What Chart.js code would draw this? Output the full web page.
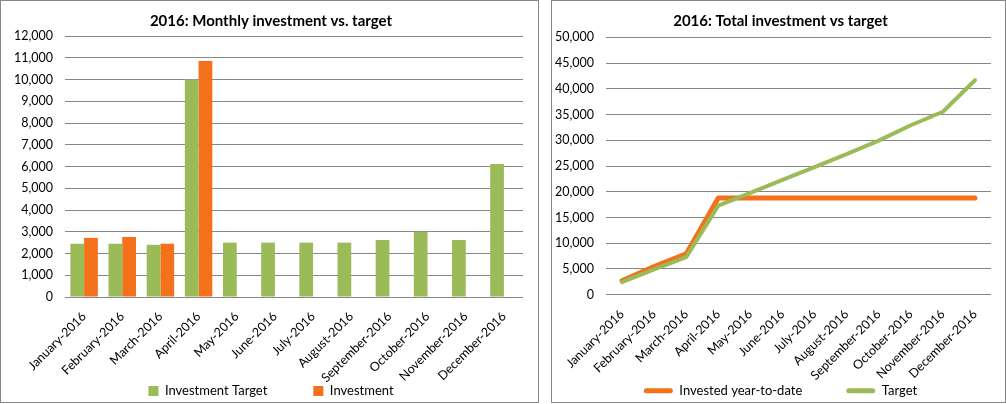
<!DOCTYPE html>
<html>
<head>
<meta charset="utf-8">
<script src="https://cdn.jsdelivr.net/npm/chart.js@4.4.1/dist/chart.umd.min.js"></script>
<style>
    body { margin: 0; background: #fff; }
    .box { position: absolute; top: 0; height: 401px; border: 1px solid #878787; background: #fff; }
    #box-monthly { left: 0; width: 537px; }
    #box-total { left: 551px; width: 453px; }
    canvas { display: block; }
</style>
</head>
<body>
<div class="box" id="box-monthly"><canvas id="chart-monthly" width="537" height="401"></canvas></div>
<div class="box" id="box-total"><canvas id="chart-total" width="453" height="401"></canvas></div>
<script>
const MONTHS = ['January-2016', 'February-2016', 'March-2016', 'April-2016', 'May-2016', 'June-2016',
    'July-2016', 'August-2016', 'September-2016', 'October-2016', 'November-2016', 'December-2016'];

// monthly values
const monthlyTarget     = [2450, 2450, 2400, 10000, 2500, 2500, 2500, 2500, 2620, 3000, 2620, 6120];
const monthlyInvestment = [2720, 2760, 2450, 10850, null, null, null, null, null, null, null, null];

// running totals
const totalInvested = [2720, 5480, 7930, 18780, 18780, 18780, 18780, 18780, 18780, 18780, 18780, 18780];
const totalTarget   = [2450, 4900, 7300, 17300, 19800, 22300, 24800, 27300, 29920, 32920, 35540, 41660];

const monthlyTicks = { min: 0, max: 12000, step: 1000 };
const totalTicks   = { min: 0, max: 50000, step: 5000 };

const GREEN  = '#9BBB59';
const ORANGE = '#F4711C';
const GRID   = '#878787';
const FONT   = 'Lato, "Open Sans", sans-serif';

const fmt = v => Number(v).toLocaleString('en-US');

// axis boxes are sized by hand to match the original layout, so let their labels spill past them
const unclipAxes = {
    id: 'unclipAxes',
    afterLayout(chart) {
        chart.scales.x.bottom = chart.height;
        chart.scales.y.left = 0;
    },
};

function titleOpts(text, padBottom) {
    return {
        display: true,
        text,
        color: '#000',
        font: { family: FONT, size: 15, weight: 'bold' },
        padding: { top: 11, bottom: padBottom },
    };
}

function axes(range, yWidth, xHeight) {
    return {
        x: {
            grid: { display: false },
            border: { display: false },
            ticks: {
                color: '#000',
                font: { family: FONT, size: 12.5 },
                minRotation: 45,
                maxRotation: 45,
                autoSkip: false,
                padding: 4,
            },
            afterFit(s) { s.height = xHeight; },
        },
        y: {
            min: range.min,
            max: range.max,
            grid: { color: GRID, drawTicks: false },
            border: { display: false },
            ticks: {
                stepSize: range.step,
                color: '#000',
                font: { family: FONT, size: 12.5 },
                padding: 12,
                callback: fmt,
            },
            afterFit(s) { s.width = yWidth; },
        },
    };
}

new Chart(document.getElementById('chart-monthly'), {
    type: 'bar',
    data: {
        labels: MONTHS,
        datasets: [
            { label: 'Investment Target', data: monthlyTarget, backgroundColor: GREEN },
            { label: 'Investment', data: monthlyInvestment, backgroundColor: ORANGE },
        ],
    },
    options: {
        responsive: false,
        animation: false,
        categoryPercentage: 0.72,
        barPercentage: 1,
        layout: { padding: { left: 18, right: 15, top: 0, bottom: 0 } },
        plugins: {
            title: titleOpts('2016: Monthly investment vs. target', 6),
            tooltip: { enabled: false },
            legend: {
                position: 'bottom',
                maxHeight: 63.5,
                labels: {
                    color: '#000',
                    font: { family: FONT, size: 13 },
                    boxWidth: 10,
                    boxHeight: 10,
                    padding: 46,
                },
            },
        },
        scales: axes(monthlyTicks, 46, 41.5),
    },
    plugins: [unclipAxes],
});

new Chart(document.getElementById('chart-total'), {
    type: 'line',
    data: {
        labels: MONTHS,
        datasets: [
            // green sits on top of orange in the original, hence the order values
            { label: 'Invested year-to-date', data: totalInvested, borderColor: ORANGE, backgroundColor: ORANGE,
              borderWidth: 5, order: 1 },
            { label: 'Target', data: totalTarget, borderColor: GREEN, backgroundColor: GREEN,
              borderWidth: 4, order: 0 },
        ],
    },
    options: {
        responsive: false,
        animation: false,
        elements: {
            point: { radius: 0 },
            line: { tension: 0, borderJoinStyle: 'round', borderCapStyle: 'round' },
        },
        layout: { padding: { left: 18, right: 14, top: 0, bottom: 0 } },
        plugins: {
            title: titleOpts('2016: Total investment vs target', 7.3),
            tooltip: { enabled: false },
            legend: {
                position: 'bottom',
                maxHeight: 61.8,
                labels: {
                    color: '#000',
                    font: { family: FONT, size: 13 },
                    boxWidth: 29,
                    boxHeight: 5,
                    padding: 44,
                    useBorderRadius: true,
                    borderRadius: 2.5,
                    sort: (a, b) => a.datasetIndex - b.datasetIndex,
                    generateLabels(chart) {
                        return Chart.defaults.plugins.legend.labels.generateLabels(chart)
                            .map(item => ({ ...item, lineWidth: 0 }));
                    },
                },
            },
        },
        scales: (() => {
            const s = axes(totalTicks, 36, 45.5);
            s.x.offset = true;
            return s;
        })(),
    },
    plugins: [unclipAxes],
});
</script>
</body>
</html>
